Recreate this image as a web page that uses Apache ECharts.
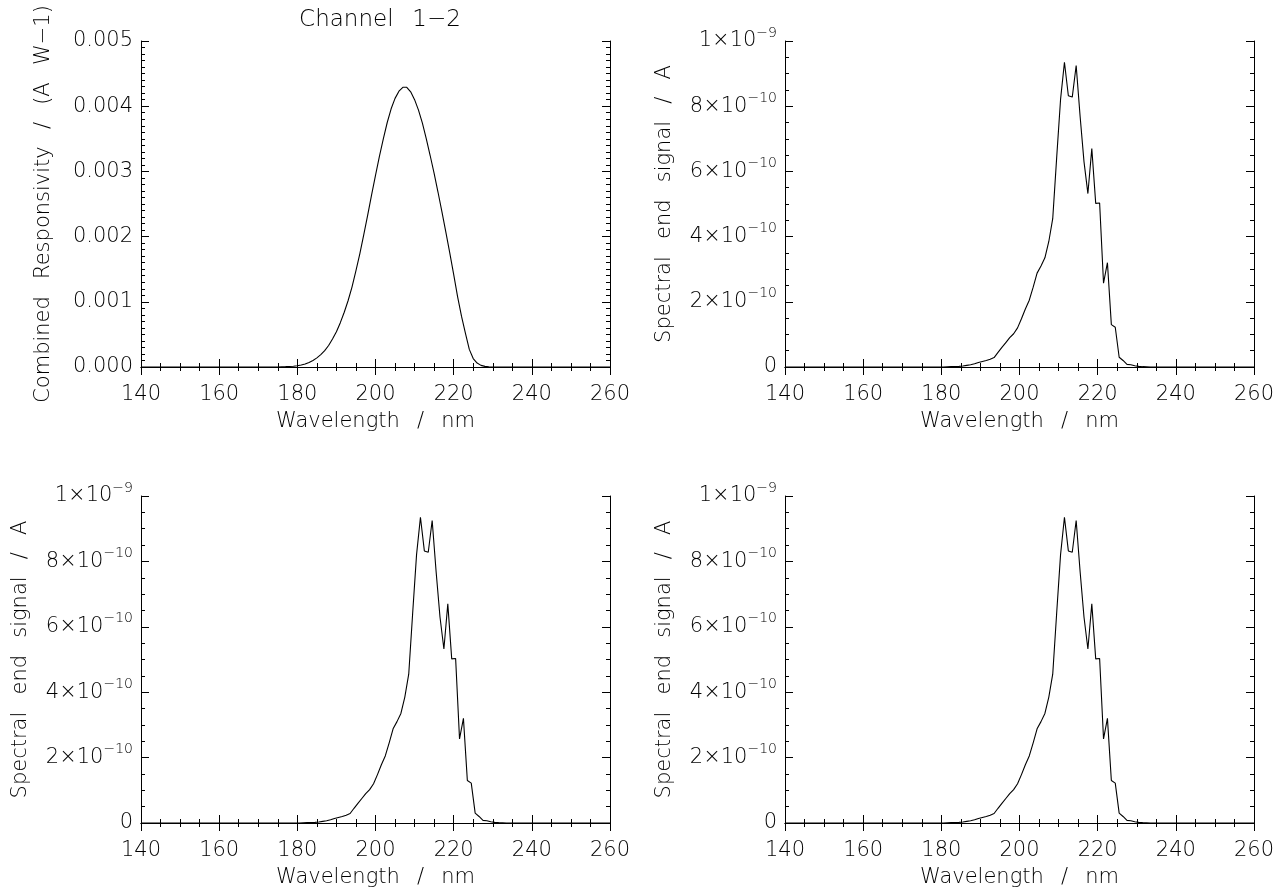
<!DOCTYPE html>
<html>
<head>
<meta charset="utf-8">
<script src="https://cdn.jsdelivr.net/npm/echarts@6/dist/echarts.min.js"></script>
<style>
html,body{margin:0;padding:0;background:#fff;}
#chart{width:1287px;height:892px;}
</style>
</head>
<body>
<div id="chart"></div>
<script>
// ---- Data ----
const SP = ' \u2002'; // wide word space (plot font has wide spaces)
const titleText = 'Channel' + SP + '1\u22122';
const xLabelText = ['Wavelength', '/', 'nm'].join(SP);
const respLabelText = ['Combined', 'Responsivity', '/', '(A', 'W\u22121)'].join(SP);
const signalLabelText = ['Spectral', 'end', 'signal', '/', 'A'].join(SP);
const xTicks = [140, 160, 180, 200, 220, 240, 260];
const respTicks = [0.000, 0.001, 0.002, 0.003, 0.004, 0.005];
const signalTicks = [0, 2e-10, 4e-10, 6e-10, 8e-10, 1e-9];

// Combined responsivity (A/W) vs wavelength (nm)
const respWavelength = [140,150,160,170,175,176,177,178,179,180,181,182,183,184,185,186,187,188,189,190,
  191,192,193,194,195,196,197,198,199,200,201,202,203,204,205,206,207,208,209,210,
  211,212,213,214,215,216,217,218,219,220,221,222,223,224,225,226,227,228,229,230,231,240,250,260];
const respValues = [0,0,0,0,0,0.000003,0.000005,0.000008,0.000012,0.00002,0.00003,0.000045,0.00007,0.0001,0.00014,0.00019,0.00025,0.00033,0.00043,0.00054,
  0.00068,0.00084,0.00102,0.00123,0.00148,0.00174,0.00203,0.00233,0.00264,0.00294,0.00323,0.0035,0.00375,0.00396,0.00412,0.00423,0.00429,0.00429,0.00422,0.0041,
  0.00394,0.00374,0.0035,0.00324,0.00297,0.00268,0.00238,0.00207,0.00175,0.00142,0.00108,0.00078,0.00052,0.00027,0.00013,0.00006,0.000025,0.00001,0.000004,0.000001,0,0,0,0];

// Spectral end signal, in units of 1e-10 A
const SIGNAL_UNIT = 1e-10;
const signalWavelength = [140,160,180.5,181.5,182.5,183.5,184.5,185.5,186.5,187.5,188.5,189.5,190.5,191.5,192.5,193.5,194.5,195.5,196.5,197.5,
  198.5,199.5,200.5,201.5,202.5,203.5,204.5,205.5,206.5,207.5,208.5,209.5,210.5,211.5,212.5,213.5,214.5,215.5,216.5,217.5,
  218.5,219.5,220.5,221.5,222.5,223.5,224.5,225.5,226.5,227.5,228.5,229.5,230.5,231.5,232.5,233.5,240,260];
const signalValues = [0,0,0,0.005,0.01,0.015,0.02,0.03,0.05,0.07,0.1,0.14,0.17,0.2,0.24,0.29,0.45,0.6,0.75,0.9,
  1.02,1.2,1.48,1.78,2.05,2.45,2.88,3.1,3.35,3.85,4.55,6.4,8.2,9.35,8.32,8.28,9.25,7.7,6.3,5.32,
  6.7,5.02,5.03,2.57,3.2,1.3,1.22,0.3,0.2,0.08,0.07,0.04,0.02,0.01,0.005,0,0,0];

// ---- Build ----
const FONT = 'DejaVu Sans';
const FW = 200;
const TXT = '#000';
const respData = respWavelength.map((x, i) => [x, respValues[i]]);
const signalData = signalWavelength.map((x, i) => [x, signalValues[i] * SIGNAL_UNIT]);

const grids = [
  {left: 141, top: 41, width: 469, height: 326},
  {left: 785, top: 41, width: 469, height: 326},
  {left: 141, top: 496, width: 469, height: 327},
  {left: 785, top: 496, width: 469, height: 327}
];

function sciLabel(v) {
  const n = Math.round(v / SIGNAL_UNIT);
  if (n === 0) return '{b|0}';
  if (n === 10) return '{b|1\u00d710}{s|\u22129}';
  return '{b|' + n + '\u00d710}{s|\u221210}';
}

const xAxes = [], yAxes = [], series = [];
const lineBase = {show: true, lineStyle: {color: '#000', width: 1}};
const tickBase = {show: true, inside: true, length: 8, lineStyle: {color: '#000', width: 1}};

grids.forEach((g, gi) => {
  const isResp = gi === 0;
  const xCommon = {
    type: 'value', gridIndex: gi, min: xTicks[0], max: xTicks[xTicks.length - 1], interval: 20,
    axisLine: lineBase, axisTick: tickBase,
    minorTick: {show: true, splitNumber: 4, length: 4, lineStyle: {color: '#000', width: 1}},
    splitLine: {show: false}, minorSplitLine: {show: false}
  };
  xAxes.push(Object.assign({}, xCommon, {
    position: 'bottom',
    name: xLabelText, nameLocation: 'middle', nameGap: 44,
    nameTextStyle: {fontFamily: FONT, fontWeight: FW, fontSize: 21, color: TXT},
    axisLabel: {show: true, margin: 17, fontFamily: FONT, fontWeight: FW, fontSize: 21, color: TXT, showMinLabel: true, showMaxLabel: true, hideOverlap: false}
  }));
  xAxes.push(Object.assign({}, xCommon, {position: 'top', axisLabel: {show: false}}));

  const yCommon = {
    type: 'value', gridIndex: gi, min: 0,
    max: isResp ? respTicks[respTicks.length - 1] : signalTicks[signalTicks.length - 1],
    interval: isResp ? 0.001 : 2e-10,
    axisLine: lineBase, axisTick: tickBase,
    minorTick: {show: true, splitNumber: isResp ? 10 : 4, length: 4, lineStyle: {color: '#000', width: 1}},
    splitLine: {show: false}, minorSplitLine: {show: false}
  };
  yAxes.push(Object.assign({}, yCommon, {
    position: 'left',
    name: isResp ? respLabelText : signalLabelText, nameLocation: 'middle', nameGap: isResp ? 87 : 110,
    nameTextStyle: {fontFamily: FONT, fontWeight: FW, fontSize: 21, color: TXT},
    axisLabel: isResp ? {
      show: true, margin: 8, fontFamily: FONT, fontWeight: FW, fontSize: 21, color: TXT,
      showMinLabel: true, showMaxLabel: true, hideOverlap: false,
      formatter: v => v.toFixed(3)
    } : {
      show: true, margin: 8, fontFamily: FONT, color: TXT,
      showMinLabel: true, showMaxLabel: true, hideOverlap: false,
      formatter: sciLabel,
      rich: {
        b: {fontFamily: FONT, fontWeight: FW, fontSize: 21, color: TXT, lineHeight: 30, verticalAlign: 'middle'},
        s: {fontFamily: FONT, fontWeight: FW, fontSize: 14, color: TXT, lineHeight: 14, verticalAlign: 'top'}
      }
    }
  }));
  yAxes.push(Object.assign({}, yCommon, {position: 'right', axisLabel: {show: false}}));

  series.push({
    type: 'line', xAxisIndex: gi * 2, yAxisIndex: gi * 2,
    data: isResp ? respData : signalData,
    showSymbol: false, symbol: 'none', smooth: false, silent: true, animation: false,
    lineStyle: {color: '#000', width: 1.1}
  });
});

const chart = echarts.init(document.getElementById('chart'), null, {renderer: 'canvas'});
chart.setOption({
  backgroundColor: '#fff',
  animation: false,
  title: {
    text: titleText, left: 375, top: 4, textAlign: 'center',
    textStyle: {fontFamily: FONT, fontSize: 23, fontWeight: FW, color: TXT}
  },
  grid: grids.map(g => Object.assign({containLabel: false, outerBoundsMode: 'none'}, g)),
  xAxis: xAxes,
  yAxis: yAxes,
  series: series
});
</script>
</body>
</html>
